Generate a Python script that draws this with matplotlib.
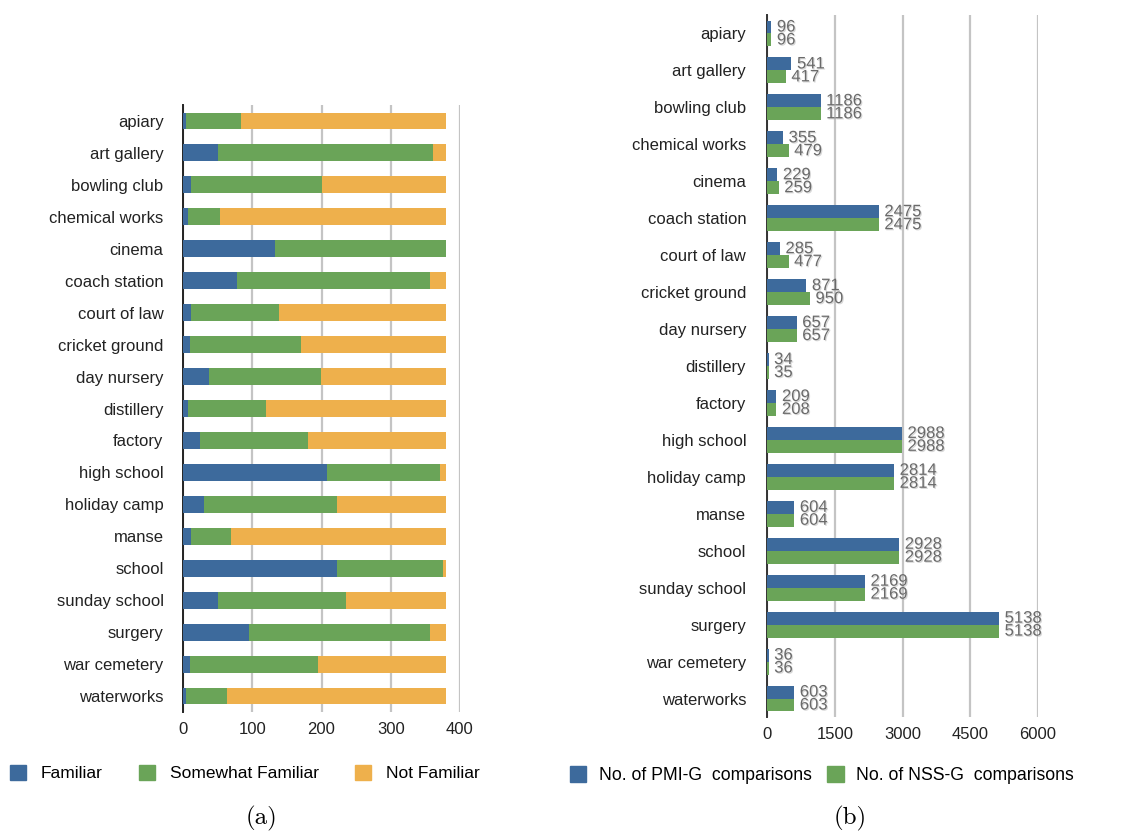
import numpy as np
import matplotlib.pyplot as plt
from matplotlib.patches import Patch
import matplotlib.patheffects as pe

places = ['apiary', 'art gallery', 'bowling club', 'chemical works', 'cinema',
          'coach station', 'court of law', 'cricket ground', 'day nursery',
          'distillery', 'factory', 'high school', 'holiday camp', 'manse',
          'school', 'sunday school', 'surgery', 'war cemetery', 'waterworks']

# (a) familiarity counts per place
familiar = [5, 50, 12, 7, 133, 78, 12, 10, 37, 7, 25, 208, 31, 12, 223, 50, 95, 10, 5]
somewhat = [79, 311, 189, 47, 247, 278, 127, 160, 162, 113, 155, 163, 192, 57, 153, 185, 261, 185, 58]
not_familiar = [296, 19, 179, 326, 0, 24, 241, 210, 181, 260, 200, 9, 157, 311, 4, 145, 24, 185, 317]

# (b) number of comparisons per place
pmi = [96, 541, 1186, 355, 229, 2475, 285, 871, 657, 34, 209, 2988, 2814, 604, 2928, 2169, 5138, 36, 603]
nss = [96, 417, 1186, 479, 259, 2475, 477, 950, 657, 35, 208, 2988, 2814, 604, 2928, 2169, 5138, 36, 603]

BLUE = '#3d6a9c'
GREEN = '#6aa458'
ORANGE = '#eeb04c'
GRID = '#c4c4c4'

plt.rcParams['font.family'] = ['Liberation Sans', 'DejaVu Sans']

fig = plt.figure(figsize=(11.28, 8.34), dpi=100)
y = np.arange(len(places))

# ---- left panel: stacked bars ----
ax1 = fig.add_axes([183 / 1128, 1 - 712 / 834, 277 / 1128, 607 / 834])
f = np.array(familiar)
s = np.array(somewhat)
n = np.array(not_familiar)
ax1.barh(y, f, height=0.53, color=BLUE, zorder=3)
ax1.barh(y, s, left=f, height=0.53, color=GREEN, zorder=3)
ax1.barh(y, n, left=f + s, height=0.53, color=ORANGE, zorder=3)
ax1.set_xlim(0, 400)
ax1.set_ylim(len(places) - 0.5, -0.5)
ax1.set_xticks([0, 100, 200, 300, 400])
ax1.set_yticks(y)
ax1.set_yticklabels(places)
ax1.xaxis.grid(True, color=GRID, linewidth=1.6, zorder=0)
for side in ['top', 'right', 'bottom']:
    ax1.spines[side].set_visible(False)
ax1.spines['left'].set_linewidth(1.4)
ax1.spines['left'].set_color('#222222')
ax1.tick_params(length=0, labelsize=12, colors='#222222')
ax1.tick_params(axis='y', pad=14)
ax1.tick_params(axis='x', pad=7)

fig.legend(handles=[Patch(color=BLUE, label='Familiar'),
                    Patch(color=GREEN, label='Somewhat Familiar'),
                    Patch(color=ORANGE, label='Not Familiar')],
           loc='center left', bbox_to_anchor=(10 / 1128, 1 - 773 / 834), ncol=3,
           frameon=False, fontsize=12.5, handlelength=0.92, handleheight=1.0,
           columnspacing=2.1, handletextpad=0.85, borderpad=0, borderaxespad=0)

# ---- right panel: grouped bars with labels ----
ax2 = fig.add_axes([767 / 1128, 1 - 717 / 834, 271 / 1128, 702 / 834])
h = 0.35
ax2.barh(y - h / 2, pmi, height=h, color=BLUE, zorder=3)
ax2.barh(y + h / 2, nss, height=h, color=GREEN, zorder=3)
shadow = [pe.withSimplePatchShadow(offset=(0.8, -0.8), shadow_rgbFace='#b0b0b0', alpha=0.5)]
for i in range(len(places)):
    ax2.annotate(str(pmi[i]), (pmi[i], y[i] - h / 2), xytext=(4, 0),
                 textcoords='offset points', va='center', ha='left',
                 fontsize=12, color='#6a6a6a', zorder=4, path_effects=shadow)
    ax2.annotate(str(nss[i]), (nss[i], y[i] + h / 2), xytext=(4, 0),
                 textcoords='offset points', va='center', ha='left',
                 fontsize=12, color='#6a6a6a', zorder=4, path_effects=shadow)
ax2.set_xlim(0, 6000)
ax2.set_ylim(len(places) - 0.5, -0.5)
ax2.set_xticks([0, 1500, 3000, 4500, 6000])
ax2.set_yticks(y)
ax2.set_yticklabels(places)
ax2.xaxis.grid(True, color=GRID, linewidth=1.6, zorder=0)
for side in ['top', 'right', 'bottom']:
    ax2.spines[side].set_visible(False)
ax2.spines['left'].set_linewidth(1.4)
ax2.spines['left'].set_color('#333333')
ax2.tick_params(length=0, labelsize=12, colors='#222222')
ax2.tick_params(axis='y', pad=15)
ax2.tick_params(axis='x', pad=7)

fig.legend(handles=[Patch(color=BLUE, label='No. of PMI-G  comparisons'),
                    Patch(color=GREEN, label='No. of NSS-G  comparisons')],
           loc='center left', bbox_to_anchor=(570 / 1128, 1 - 775 / 834), ncol=2,
           frameon=False, fontsize=12.7, handlelength=0.92, handleheight=1.0,
           columnspacing=0.9, handletextpad=0.7, borderpad=0, borderaxespad=0)

# sub-figure captions
fig.text(262 / 1128, 1 - 818 / 834, '(a)', ha='center', va='center',
         fontsize=18, family=['cmr10', 'DejaVu Serif'])
fig.text(850 / 1128, 1 - 818 / 834, '(b)', ha='center', va='center',
         fontsize=18, family=['cmr10', 'DejaVu Serif'])

fig.savefig('out.png', dpi=100)
